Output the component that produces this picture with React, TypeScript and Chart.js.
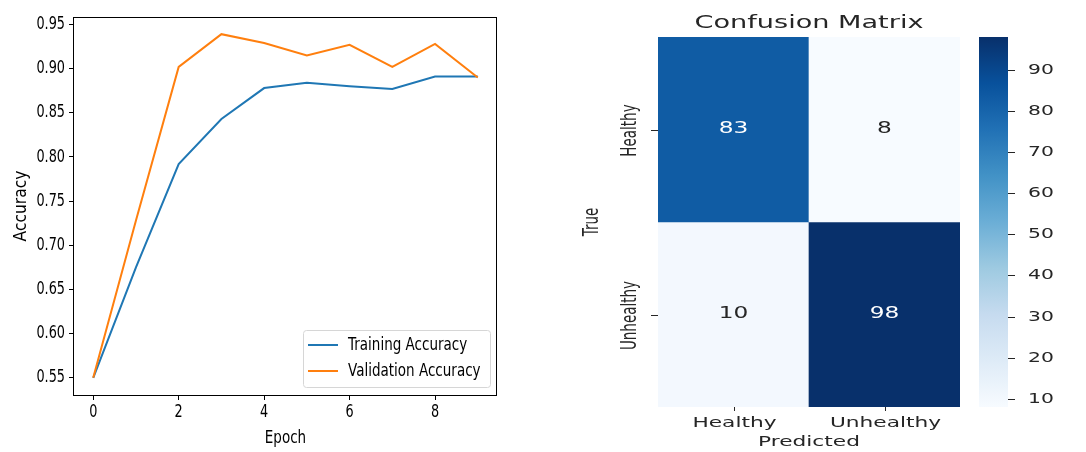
import React, { useEffect, useRef } from "react";
import { Chart, registerables } from "chart.js";

Chart.register(...registerables);

// ---- training history ----
const epochs = [0, 1, 2, 3, 4, 5, 6, 7, 8, 9];
const trainingAccuracy = [0.55, 0.675, 0.792, 0.843, 0.878, 0.884, 0.88, 0.877, 0.891, 0.891];
const validationAccuracy = [0.55, 0.728, 0.902, 0.939, 0.929, 0.915, 0.927, 0.902, 0.928, 0.89];
const accuracyTicks = [0.55, 0.6, 0.65, 0.7, 0.75, 0.8, 0.85, 0.9, 0.95];
const epochTicks = [0, 2, 4, 6, 8];

// ---- confusion matrix ----
const classLabels = ["Healthy", "Unhealthy"];
const healthyRow = [83, 8];
const unhealthyRow = [10, 98];
const colorbarTicks = [10, 20, 30, 40, 50, 60, 70, 80, 90];

const matrixRows = [healthyRow, unhealthyRow];
const allCounts = matrixRows.flat();
const vmin = Math.min(...allCounts);
const vmax = Math.max(...allCounts);

const FAMILY = '"DejaVu Sans", sans-serif';
const INK = "#262626";

// matplotlib "Blues" colormap anchor colours
const BLUES = ["#f7fbff", "#deebf7", "#c6dbef", "#9ecae1", "#6baed6", "#4292c6", "#2171b5", "#08519c", "#08306b"];

function hexToRgb(h: string) {
  const n = parseInt(h.slice(1), 16);
  return [(n >> 16) & 255, (n >> 8) & 255, n & 255];
}

function blues(t: number) {
  const c = Math.max(0, Math.min(1, t)) * (BLUES.length - 1);
  const i = Math.min(Math.floor(c), BLUES.length - 2);
  const f = c - i;
  const a = hexToRgb(BLUES[i]);
  const b = hexToRgb(BLUES[i + 1]);
  const m = a.map((v, k) => Math.round(v + (b[k] - v) * f));
  return `rgb(${m[0]},${m[1]},${m[2]})`;
}

const norm = (v: number) => (v - vmin) / (vmax - vmin);

type TextOpts = { rotate?: boolean; color?: string; align?: CanvasTextAlign; sy?: number };

// text drawn with a stretch (sx horizontal, sy vertical), optionally rotated
function stretchedText(
  ctx: CanvasRenderingContext2D,
  text: string,
  x: number,
  y: number,
  size: number,
  sx: number,
  opts: TextOpts = {}
) {
  ctx.save();
  ctx.translate(x, y);
  ctx.scale(sx, opts.sy || 1);
  if (opts.rotate) ctx.rotate(-Math.PI / 2);
  ctx.font = `${size}px ${FAMILY}`;
  ctx.fillStyle = opts.color || INK;
  ctx.textAlign = opts.align || "center";
  ctx.textBaseline = "middle";
  ctx.fillText(text, 0, 0);
  ctx.restore();
}

// ---------- accuracy line chart ----------
const LEFT_SY = 1.3;

const frame = {
  id: "frame",
  afterDatasetsDraw(chart: any) {
    const { ctx, chartArea: a } = chart;
    ctx.save();
    ctx.strokeStyle = "#000";
    ctx.lineWidth = 1;
    ctx.strokeRect(Math.round(a.left) - 0.5, Math.round(a.top) + 0.5, Math.round(a.right - a.left), Math.round(a.bottom - a.top));
    ctx.restore();
  },
};

const axisText = {
  id: "axisText",
  afterDraw(chart: any) {
    const { ctx, chartArea: a, scales } = chart;
    accuracyTicks.forEach((v) => {
      stretchedText(ctx, v.toFixed(2), a.left - 9, scales.y.getPixelForValue(v), 13.5, 0.95, {
        align: "right",
        color: "#000",
        sy: LEFT_SY,
      });
    });
    epochTicks.forEach((v) => {
      stretchedText(ctx, String(v), scales.x.getPixelForValue(v), a.bottom + 17, 13.5, 0.95, { color: "#000", sy: LEFT_SY });
    });
    stretchedText(ctx, "Epoch", (a.left + a.right) / 2, a.bottom + 43, 13.5, 1, { color: "#000", sy: LEFT_SY });
    stretchedText(ctx, "Accuracy", 22, (a.top + a.bottom) / 2, 13.5, 1.25, { color: "#000", sy: 1.15, rotate: true });
  },
};

const boxLegend = {
  id: "boxLegend",
  afterDraw(chart: any) {
    const { ctx, chartArea: a } = chart;
    const w = 187;
    const h = 57;
    const x0 = Math.round(a.right - 7 - w);
    const y0 = Math.round(a.bottom - 8 - h);
    ctx.save();
    ctx.fillStyle = "rgba(255,255,255,0.85)";
    ctx.strokeStyle = "#d6d6d6";
    ctx.lineWidth = 1;
    ctx.beginPath();
    ctx.roundRect(x0 + 0.5, y0 + 0.5, w, h, 3);
    ctx.fill();
    ctx.stroke();
    chart.data.datasets.forEach((ds: any, i: number) => {
      const y = y0 + 15 + i * 26;
      ctx.strokeStyle = ds.borderColor;
      ctx.lineWidth = 2;
      ctx.beginPath();
      ctx.moveTo(x0 + 5, y);
      ctx.lineTo(x0 + 35, y);
      ctx.stroke();
      stretchedText(ctx, ds.label, x0 + 45, y, 13.5, 1, { align: "left", color: "#000", sy: LEFT_SY });
    });
    ctx.restore();
  },
};

function makeAccuracyChart(canvas: HTMLCanvasElement) {
  const all = [...trainingAccuracy, ...validationAccuracy];
  const lo = Math.min(...all);
  const hi = Math.max(...all);
  const yPad = (hi - lo) * 0.05;
  const xLo = Math.min(...epochs);
  const xHi = Math.max(...epochs);
  const xPad = (xHi - xLo) * 0.05;
  const grid = { display: true, drawOnChartArea: false, drawTicks: true, tickLength: 5, color: "#000", tickColor: "#000" };

  return new Chart(canvas, {
    type: "line",
    data: {
      datasets: [
        {
          label: "Training Accuracy",
          data: epochs.map((e, i) => ({ x: e, y: trainingAccuracy[i] })),
          borderColor: "#1f77b4",
          backgroundColor: "#1f77b4",
          order: 1,
        },
        {
          label: "Validation Accuracy",
          data: epochs.map((e, i) => ({ x: e, y: validationAccuracy[i] })),
          borderColor: "#ff7f0e",
          backgroundColor: "#ff7f0e",
          order: 0,
        },
      ],
    },
    options: {
      responsive: false,
      animation: false,
      layout: { padding: { top: 17, right: 43, left: 0, bottom: 0 } },
      elements: { point: { radius: 0 }, line: { tension: 0, borderWidth: 2 } },
      plugins: { legend: { display: false }, tooltip: { enabled: false } },
      scales: {
        x: {
          type: "linear",
          min: xLo - xPad,
          max: xHi + xPad,
          afterBuildTicks: (s: any) => {
            s.ticks = epochTicks.map((v) => ({ value: v }));
          },
          afterFit: (s: any) => {
            s.height = 57;
          },
          grid,
          border: { display: false },
          ticks: { display: false },
        },
        y: {
          type: "linear",
          min: lo - yPad,
          max: hi + yPad,
          afterBuildTicks: (s: any) => {
            s.ticks = accuracyTicks.map((v) => ({ value: v }));
          },
          afterFit: (s: any) => {
            s.width = 74;
          },
          grid,
          border: { display: false },
          ticks: { display: false },
        },
      },
    } as any,
    plugins: [frame, axisText, boxLegend],
  });
}

// ---------- confusion matrix heatmap ----------
const SX = 1.55;

const matrixText = {
  id: "matrixText",
  afterDatasetsDraw(chart: any) {
    const { ctx } = chart;
    chart.data.datasets.forEach((ds: any, r: number) => {
      chart.getDatasetMeta(r).data.forEach((el: any, c: number) => {
        const v = matrixRows[r][c];
        const cy = (el.y + el.base) / 2;
        stretchedText(ctx, String(v), el.x, cy, 15, SX, { color: norm(v) > 0.5 ? "#ffffff" : INK });
      });
    });
  },
  afterDraw(chart: any) {
    const { ctx, chartArea: a, scales } = chart;
    const cx = (a.left + a.right) / 2;
    const cy = (a.top + a.bottom) / 2;
    stretchedText(ctx, "Confusion Matrix", cx, a.top - 14, 17.5, SX);
    ctx.save();
    ctx.strokeStyle = INK;
    ctx.lineWidth = 1;
    classLabels.forEach((lab, i) => {
      const x = Math.round(scales.x.getPixelForValue(i)) + 0.5;
      ctx.beginPath();
      ctx.moveTo(x, a.bottom);
      ctx.lineTo(x, a.bottom + 4);
      ctx.stroke();
      stretchedText(ctx, lab, x, a.bottom + 16, 14, SX);

      const y = Math.round(scales.y.getPixelForValue(i + 0.5)) + 0.5;
      ctx.beginPath();
      ctx.moveTo(a.left - 7, y);
      ctx.lineTo(a.left, y);
      ctx.stroke();
      stretchedText(ctx, lab, a.left - 27, y, 13.5, SX, { rotate: true });
    });
    ctx.restore();
    stretchedText(ctx, "Predicted", cx, a.bottom + 35, 14, SX);
    stretchedText(ctx, "True", a.left - 65, cy, 13.5, SX, { rotate: true });
  },
};

function makeMatrixChart(canvas: HTMLCanvasElement) {
  return new Chart(canvas, {
    type: "bar",
    data: {
      labels: classLabels,
      datasets: matrixRows.map((row, r) => ({
        label: classLabels[r],
        data: row.map(() => [r, r + 1]),
        backgroundColor: row.map((v) => blues(norm(v))),
        borderWidth: 0,
        grouped: false,
        barPercentage: 1,
        categoryPercentage: 1,
      })),
    },
    options: {
      responsive: false,
      animation: false,
      layout: { padding: { left: 88, right: 10, top: 37, bottom: 45 } },
      plugins: { legend: { display: false }, tooltip: { enabled: false } },
      scales: {
        x: { type: "category", display: false },
        y: { type: "linear", min: 0, max: matrixRows.length, reverse: true, display: false },
      },
    } as any,
    plugins: [matrixText],
  });
}

// ---------- colour bar ----------
const colorbarText = {
  id: "colorbarText",
  afterDraw(chart: any) {
    const { ctx, chartArea: a, scales } = chart;
    ctx.save();
    ctx.strokeStyle = INK;
    ctx.lineWidth = 1;
    colorbarTicks.forEach((v) => {
      const y = Math.round(scales.y.getPixelForValue(v)) + 0.5;
      ctx.beginPath();
      ctx.moveTo(a.right, y);
      ctx.lineTo(a.right + 7, y);
      ctx.stroke();
      stretchedText(ctx, String(v), a.right + 20, y, 14, 1.45, { align: "left" });
    });
    ctx.restore();
  },
};

function makeColorbar(canvas: HTMLCanvasElement) {
  return new Chart(canvas, {
    type: "bar",
    data: {
      labels: ["scale"],
      datasets: [
        {
          data: [[vmin, vmax]],
          borderWidth: 0,
          barPercentage: 1,
          categoryPercentage: 1,
          backgroundColor: (c: any) => {
            const area = c.chart.chartArea;
            if (!area) return BLUES[4];
            const g = c.chart.ctx.createLinearGradient(0, area.bottom, 0, area.top);
            BLUES.forEach((col, i) => g.addColorStop(i / (BLUES.length - 1), col));
            return g;
          },
        },
      ],
    },
    options: {
      responsive: false,
      animation: false,
      layout: { padding: { left: 9, right: 78, top: 37, bottom: 45 } },
      plugins: { legend: { display: false }, tooltip: { enabled: false } },
      scales: {
        x: { type: "category", display: false },
        y: { type: "linear", min: vmin, max: vmax, display: false },
      },
    } as any,
    plugins: [colorbarText],
  });
}

export default function App() {
  const lineRef = useRef<HTMLCanvasElement>(null);
  const heatRef = useRef<HTMLCanvasElement>(null);
  const barRef = useRef<HTMLCanvasElement>(null);

  useEffect(() => {
    const charts = [
      makeAccuracyChart(lineRef.current as HTMLCanvasElement),
      makeMatrixChart(heatRef.current as HTMLCanvasElement),
      makeColorbar(barRef.current as HTMLCanvasElement),
    ];
    return () => charts.forEach((c) => c.destroy());
  }, []);

  const abs = (left: number, width: number): React.CSSProperties => ({
    position: "absolute",
    left,
    top: 0,
    width,
    height: 452,
    display: "block",
  });

  return (
    <div style={{ position: "absolute", left: 0, top: 0, width: 1086, height: 452, background: "#fff", overflow: "hidden" }}>
      <canvas ref={lineRef} width={540} height={452} style={abs(0, 540)} />
      <canvas ref={heatRef} width={400} height={452} style={abs(570, 400)} />
      <canvas ref={barRef} width={116} height={452} style={abs(970, 116)} />
    </div>
  );
}
